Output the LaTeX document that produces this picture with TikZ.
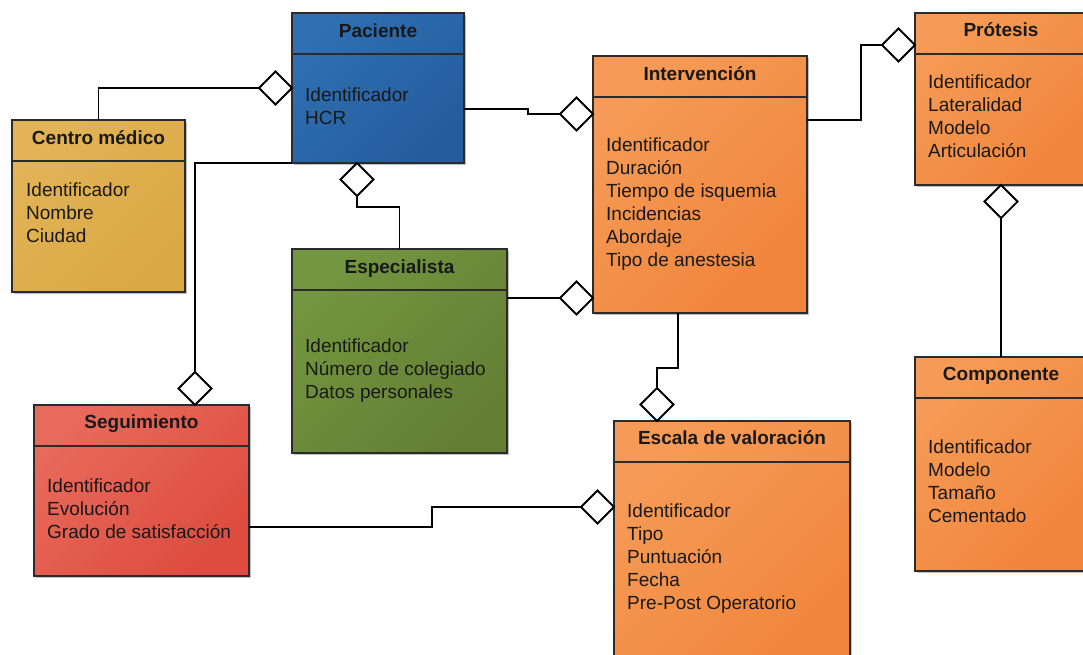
\documentclass[tikz,border=0pt]{standalone}
\usepackage{fontspec}
\setmainfont{Liberation Sans}
\usetikzlibrary{shapes.geometric,shadows}

\definecolor{edge}{HTML}{2B2B2B}
\definecolor{blueA}{HTML}{2F6FB2}
\definecolor{blueB}{HTML}{245D9E}
\definecolor{goldA}{HTML}{E2B457}
\definecolor{goldB}{HTML}{DAA844}
\definecolor{orangeA}{HTML}{F59B57}
\definecolor{orangeB}{HTML}{F1853B}
\definecolor{greenA}{HTML}{739640}
\definecolor{greenB}{HTML}{647F33}
\definecolor{redA}{HTML}{E86A5C}
\definecolor{redB}{HTML}{DD4C3F}

% attribute lines of an entity: name, left x, first baseline, list
\newcommand\entityattrs[4]{%
  \foreach \t [count=\i from 0] in {#4}
    \node[attr] (#1-a\i) at (#2,{#3+23*\i}) {\t};}

\begin{document}
\begin{tikzpicture}[x=1pt,y=-1pt,
  entity/.style={draw=edge, line width=1.8pt, anchor=north west,
    inner sep=0pt, outer sep=0pt,
    drop shadow={shadow xshift=2pt, shadow yshift=-2pt, fill=black, opacity=.25}},
  colored/.style 2 args={entity, top color=#1, bottom color=#2, shading angle=45},
  bluebox/.style={colored={blueA}{blueB}},
  goldbox/.style={colored={goldA}{goldB}},
  orangebox/.style={colored={orangeA}{orangeB}},
  greenbox/.style={colored={greenA}{greenB}},
  redbox/.style={colored={redA}{redB}},
  divider/.style={draw=edge, line width=2pt},
  title/.style={anchor=base, inner sep=0pt, font=\fontsize{19}{23}\selectfont\bfseries, text=black!90},
  attr/.style={anchor=base west, inner sep=0pt, font=\fontsize{19}{23}\selectfont, text=black!90},
  conn/.style={draw=black, line width=1.8pt},
  agg/.style={diamond, draw=black, fill=white, line width=1.8pt, aspect=1,
    minimum width=33pt, minimum height=33pt, inner sep=0pt, outer sep=0pt}]

\clip (0,0) rectangle (1083,654);

% entity boxes
\node[bluebox,   minimum width=172, minimum height=150] (pac) at (292,13)  {};
\node[goldbox,   minimum width=173, minimum height=172] (cen) at (12,120)  {};
\node[orangebox, minimum width=214, minimum height=257] (int) at (593,56)  {};
\node[orangebox, minimum width=172, minimum height=172] (pro) at (915,13)  {};
\node[orangebox, minimum width=172, minimum height=214] (com) at (915,357) {};
\node[greenbox,  minimum width=215, minimum height=204] (esp) at (292,249) {};
\node[redbox,    minimum width=215, minimum height=171] (seg) at (34,405)  {};
\node[orangebox, minimum width=236, minimum height=260] (esc) at (614,421) {};

% header dividers
\foreach \b in {pac,cen,int,pro,com,esp,seg,esc}
  \draw[divider] ([yshift=-40.5pt]\b.north west) -- ([yshift=-40.5pt]\b.north east);

% titles
\node[title] (pac-t) at (378,37)   {Paciente};
\node[title] (cen-t) at (98.5,144) {Centro médico};
\node[title] (int-t) at (700,80)   {Intervención};
\node[title] (pro-t) at (1001,36)  {Prótesis};
\node[title] (com-t) at (1001,380) {Componente};
\node[title] (esp-t) at (399.5,273){Especialista};
\node[title] (seg-t) at (141.5,428){Seguimiento};
\node[title] (esc-t) at (732,444)  {Escala de valoración};

% attributes
\entityattrs{pac}{305}{101}{Identificador,HCR}
\entityattrs{cen}{26}{196}{Identificador,Nombre,Ciudad}
\entityattrs{int}{606}{151}{Identificador,Duración,Tiempo de isquemia,Incidencias,Abordaje,Tipo de anestesia}
\entityattrs{pro}{928}{88}{Identificador,Lateralidad,Modelo,Articulación}
\entityattrs{com}{928}{453}{Identificador,Modelo,Tamaño,Cementado}
\entityattrs{esp}{305}{352}{Identificador,Número de colegiado,Datos personales}
\entityattrs{seg}{47}{492}{Identificador,Evolución,Grado de satisfacción}
\entityattrs{esc}{627}{517}{Identificador,Tipo,Puntuación,Fecha,Pre-Post Operatorio}

% aggregation diamonds
\node[agg, anchor=east]  (d1) at (pac.west |- 0,88)  {};
\node[agg, anchor=north] (d2) at (357,163)           {};
\node[agg, anchor=east]  (d3) at (int.west |- 0,114) {};
\node[agg, anchor=south] (d4) at (195,405)           {};
\node[agg, anchor=east]  (d5) at (int.west |- 0,298) {};
\node[agg, anchor=south] (d6) at (657,421)           {};
\node[agg, anchor=east]  (d7) at (pro.west |- 0,45)  {};
\node[agg, anchor=north] (d8) at (pro.south)         {};
\node[agg, anchor=east]  (d9) at (esc.west |- 0,507) {};

% connectors
\draw[conn] (cen.north) |- (d1.west);
\draw[conn] (d2.south) -- ++(0,11) -| (esp.north);
\draw[conn] (pac.east |- 0,109) -- ++(64,0) |- (d3.west);
\draw[conn] (pac.south west) -| (d4.north);
\draw[conn] (esp.east |- d5.west) -- (d5.west);
\draw[conn] (int.south -| 678,0) -- ++(0,55) -| (d6.north);
\draw[conn] (int.east |- 0,120) -- ++(54,0) |- (d7.west);
\draw[conn] (d8.south) -- (com.north);
\draw[conn] (seg.east |- 0,527) -- ++(183,0) |- (d9.west);

\end{tikzpicture}
\end{document}
